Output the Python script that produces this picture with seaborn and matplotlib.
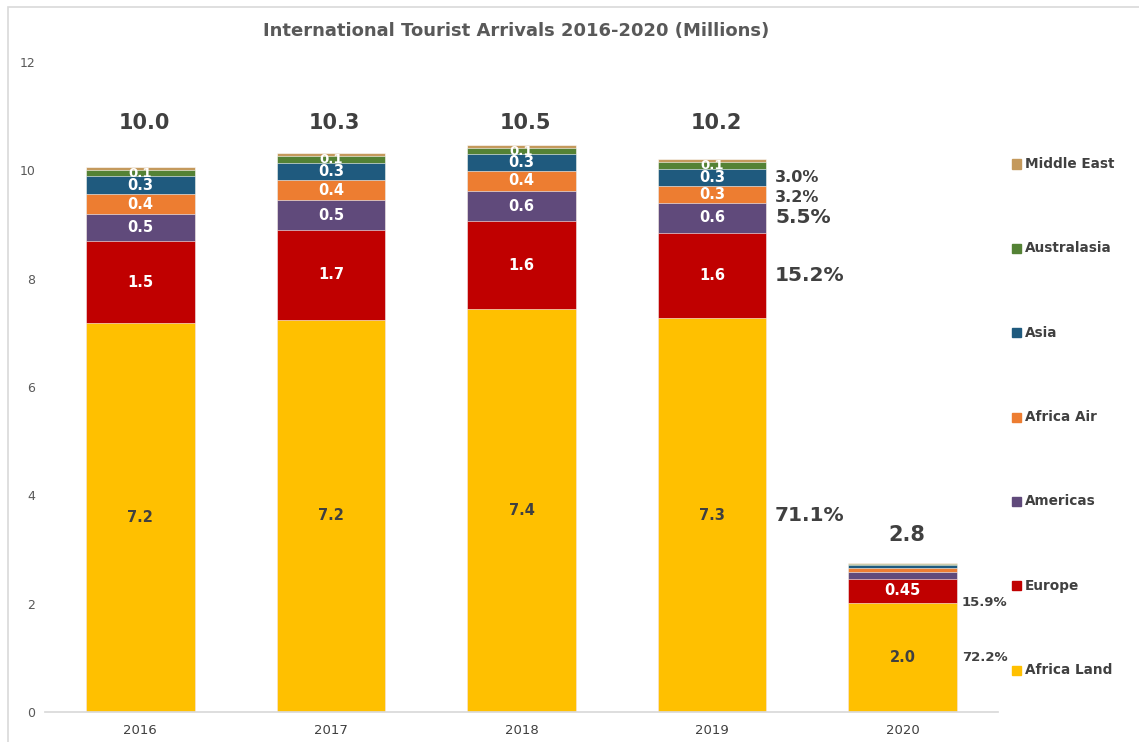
import matplotlib
matplotlib.use("Agg")
import matplotlib.pyplot as plt
import seaborn as sns
import numpy as np
import pandas as pd
from matplotlib.patches import Rectangle

sns.set_theme(style="white")
plt.rcParams['font.family'] = ['DejaVu Sans']

years = ["2016", "2017", "2018", "2019", "2020"]
series = ["Africa Land", "Europe", "Americas", "Africa Air", "Asia", "Australasia", "Middle East"]
africa_land = [7.18, 7.24, 7.44, 7.27, 2.02]
europe = [1.51, 1.66, 1.62, 1.57, 0.44]
americas = [0.50, 0.55, 0.56, 0.56, 0.13]
africa_air = [0.37, 0.37, 0.37, 0.31, 0.07]
asia = [0.33, 0.31, 0.31, 0.31, 0.05]
australasia = [0.12, 0.13, 0.11, 0.13, 0.03]
middle_east = [0.06, 0.06, 0.06, 0.06, 0.02]
colors = ["#FFC000", "#C00000", "#604A7B", "#ED7D31", "#1F5A7E", "#548235", "#C4995C"]

seg_labels = {
    "Africa Land": ["7.2", "7.2", "7.4", "7.3", "2.0"],
    "Europe": ["1.5", "1.7", "1.6", "1.6", "0.45"],
    "Americas": ["0.5", "0.5", "0.6", "0.6", ""],
    "Africa Air": ["0.4", "0.4", "0.4", "0.3", ""],
    "Asia": ["0.3", "0.3", "0.3", "0.3", ""],
    "Australasia": ["0.1", "0.1", "0.1", "0.1", ""],
    "Middle East": ["", "", "", "", ""],
}
total_labels = ["10.0", "10.3", "10.5", "10.2", "2.8"]
pct_2019 = {"Asia": "3.0%", "Africa Air": "3.2%", "Americas": "5.5%", "Europe": "15.2%", "Africa Land": "71.1%"}
pct_2020 = {"Europe": "15.9%", "Africa Land": "72.2%"}

values = [africa_land, europe, americas, africa_air, asia, australasia, middle_east]
df = pd.DataFrame({s: v for s, v in zip(series, values)}, index=years)
cum = df.cumsum(axis=1)

fig = plt.figure(figsize=(11.39, 7.42), dpi=100)
ax = fig.add_axes([45/1139, 1-712/742, (998-45)/1139, (712-62)/742])

# stacked bars: draw cumulative totals from top series down
for s, c in reversed(list(zip(series, colors))):
    sns.barplot(x=years, y=cum[s].values, color=c, width=0.57, ax=ax,
                saturation=1, edgecolor="white", linewidth=0.4)

ax.set_ylim(0, 12)
ax.set_xlim(-0.5, 4.5)
ax.set_yticks([0, 2, 4, 6, 8, 10, 12])
ax.tick_params(axis="y", labelsize=9, labelcolor="#595959", length=0, pad=7)
ax.tick_params(axis="x", labelsize=9.5, labelcolor="#404040", length=0, pad=9)
for sp in ["top", "right", "left"]:
    ax.spines[sp].set_visible(False)
ax.spines["bottom"].set_color("#D9D9D9")
ax.set_xlabel("")
ax.set_ylabel("")

# segment labels
for i, y in enumerate(years):
    for s in series:
        lab = seg_labels[s][i]
        if not lab:
            continue
        mid = cum.loc[y, s] - df.loc[y, s] / 2
        col = "#404040" if s == "Africa Land" else "white"
        fs = 9.5 if s == "Australasia" else 10.5
        ax.text(i, mid, lab, ha="center", va="center", fontsize=fs,
                fontweight="bold", color=col)

# totals
tot = cum["Middle East"].values
big_top = tot[tot > 5].max() + 0.4
for i, t in enumerate(tot):
    ty = big_top if t > 5 else t + 0.5
    ax.text(i + 0.02, ty, total_labels[i], ha="center", va="center",
            fontsize=15, fontweight="bold", color="#404040")

# percentage labels
big = {"Americas", "Europe", "Africa Land"}
for s, lab in pct_2019.items():
    mid = cum.loc["2019", s] - df.loc["2019", s] / 2
    if s == "Africa Air":
        mid -= 0.05
    fs = 14.5 if s in big else 11.5
    ax.text(3 + 0.33, mid, lab, ha="left", va="center", fontsize=fs,
            fontweight="bold", color="#404040")
for s, lab in pct_2020.items():
    mid = cum.loc["2020", s] - df.loc["2020", s] / 2
    if s == "Europe":
        mid -= 0.22
    ax.text(4 + 0.31, mid, lab, ha="left", va="center", fontsize=9.5,
            fontweight="bold", color="#404040")

# legend (manual, evenly spaced)
leg_y = np.linspace(164, 670, len(series))
for k, (s, c) in enumerate(zip(reversed(series), reversed(colors))):
    yy = 1 - leg_y[k] / 742
    fig.patches.append(Rectangle((1012/1139, yy - 4.5/742), 9/1139, 9/742,
                                 transform=fig.transFigure, color=c))
    fig.text(1025/1139, yy, s, ha="left", va="center", fontsize=9.8,
             fontweight="bold", color="#404040")

fig.text(516/1139, 1 - 31/742, "International Tourist Arrivals 2016-2020 (Millions)",
         ha="center", va="center", fontsize=13, fontweight="bold", color="#595959")

# chart border
fig.patches.append(Rectangle((8/1139, -0.05), 1.1, 1 - 6.5/742 + 0.05,
                             transform=fig.transFigure, fill=False,
                             edgecolor="#D9D9D9", linewidth=1.2))

fig.savefig("out.png", dpi=100, facecolor="white")
